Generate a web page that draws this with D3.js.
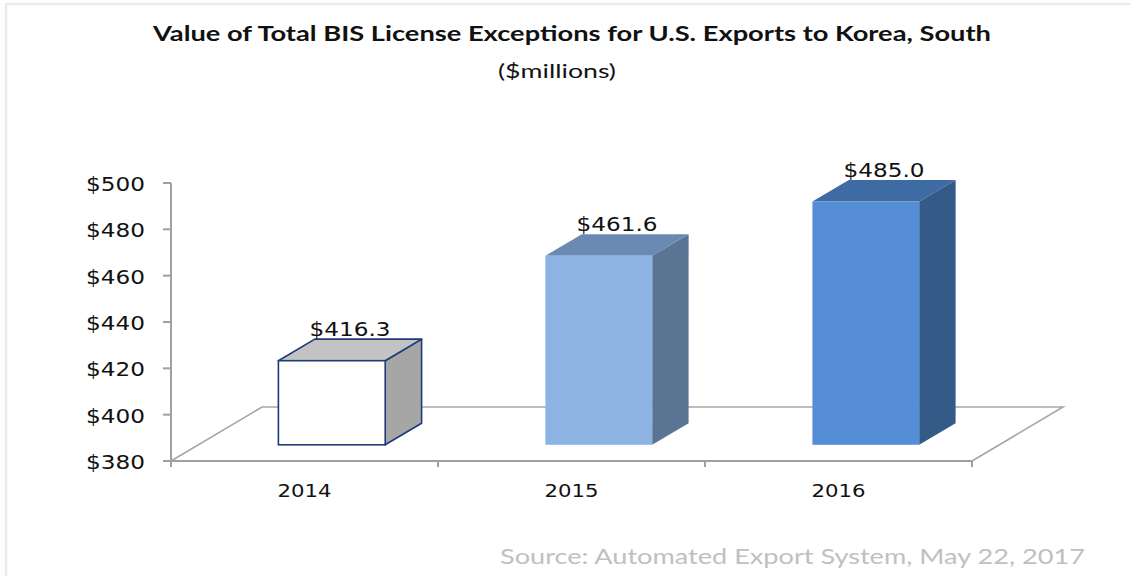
<!DOCTYPE html>
<html><head><meta charset="utf-8">
<script src="https://cdn.jsdelivr.net/npm/d3@7"></script>
<style>body{margin:0;background:#fff}svg{display:block}</style>
</head><body>
<svg id="c" width="1130" height="576"></svg>
<script>
const categories = ["2014", "2015", "2016"];
const values = [416.3, 461.6, 485.0];
const valueLabels = ["$416.3", "$461.6", "$485.0"];
const yTicks = [380, 400, 420, 440, 460, 480, 500];
const yTickLabels = ["$380", "$400", "$420", "$440", "$460", "$480", "$500"];
const frontColors = ["#ffffff", "#8db3e2", "#558ed5"];
const topColors = ["#c3c3c3", "#6a8ab4", "#3f6ba4"];
const sideColors = ["#a6a6a6", "#5b7493", "#345a88"];
const strokeColors = ["#1f3a78", "none", "none"];
const titleText = "Value of Total BIS License Exceptions for U.S. Exports to Korea, South";
const subtitleText = "($millions)";
const sourceText = "Source: Automated Export System, May 22, 2017";

const svg = d3.select("#c");
const y = d3.scaleLinear().domain([380, 500]).range([461, 183]);
const x = d3.scaleBand().domain(categories).range([171, 972]).paddingInner(0).paddingOuter(0);
const D = {x: 91, y: -54};           // full floor depth vector
const f0 = 0.3, fd = 0.4;            // bar depth start / thickness (fraction of floor depth)
const bw = x.bandwidth() * 0.4;

// border
svg.append("path").attr("d", "M6,576 L6,4 L1130,4")
  .attr("fill", "none").attr("stroke", "#ebebeb").attr("stroke-width", 2.5);

// title
svg.append("text").attr("x", 572).attr("y", 41).attr("text-anchor", "middle")
  .attr("font-family", "Lato, 'Open Sans', sans-serif").attr("font-weight", "bold").attr("font-size", 21)
  .attr("textLength", 838).attr("lengthAdjust", "spacingAndGlyphs").attr("fill", "#111").text(titleText);
svg.append("text").attr("x", 557).attr("y", 78).attr("text-anchor", "middle")
  .attr("font-family", "Lato, 'Open Sans', sans-serif").attr("font-size", 20)
  .attr("textLength", 118).attr("lengthAdjust", "spacingAndGlyphs").attr("fill", "#111").text(subtitleText);

// floor
const y0 = y(380);
const floor = svg.append("g").attr("fill", "none").attr("stroke", "#a6a6a6").attr("stroke-width", 1.6);
floor.append("path").attr("d",
  `M${x.range()[0]},${y0} L${x.range()[0] + D.x},${y0 + D.y} L${x.range()[1] + D.x},${y0 + D.y} L${x.range()[1]},${y0}`);

// y axis
const ax = svg.append("g");
ax.append("line").attr("x1", 171).attr("x2", 171).attr("y1", y(500)).attr("y2", y(380))
  .attr("stroke", "#a0a0a0").attr("stroke-width", 2);
ax.selectAll("line.t").data(yTicks).join("line").attr("class", "t")
  .attr("x1", 163).attr("x2", 171).attr("y1", d => y(d)).attr("y2", d => y(d))
  .attr("stroke", "#a0a0a0").attr("stroke-width", 2);
ax.selectAll("text").data(yTicks).join("text")
  .attr("x", 145).attr("y", d => y(d) + 8).attr("text-anchor", "end")
  .attr("font-family", "'DejaVu Sans', Verdana, sans-serif").attr("font-size", 19)
  .attr("textLength", 59).attr("lengthAdjust", "spacingAndGlyphs").attr("fill", "#111")
  .text((d, i) => yTickLabels[i]);

// front floor edge and x ticks
svg.append("line").attr("x1", x.range()[0]).attr("x2", x.range()[1]).attr("y1", y0).attr("y2", y0)
  .attr("stroke", "#a0a0a0").attr("stroke-width", 2);
const bounds = categories.map(c => x(c)).concat([x.range()[1]]);
svg.selectAll("line.xt").data(bounds).join("line").attr("class", "xt")
  .attr("x1", d => d).attr("x2", d => d).attr("y1", y0).attr("y2", y0 + 6)
  .attr("stroke", "#a0a0a0").attr("stroke-width", 2);
svg.selectAll("text.xl").data(categories).join("text").attr("class", "xl")
  .attr("x", d => x(d) + x.bandwidth() / 2).attr("y", 497).attr("text-anchor", "middle")
  .attr("font-family", "'DejaVu Sans', Verdana, sans-serif").attr("font-size", 18)
  .attr("textLength", 54).attr("lengthAdjust", "spacingAndGlyphs").attr("fill", "#111").text(d => d);

// bars
const bars = svg.selectAll("g.bar").data(categories).join("g").attr("class", "bar");
bars.each(function(c, i) {
  const g = d3.select(this);
  const cx = x(c) + x.bandwidth() / 2 + D.x * f0;
  const xl = cx - bw / 2, xr = cx + bw / 2;
  const yb = y(380) + D.y * f0, yt = y(values[i]) + D.y * f0;
  const ox = D.x * fd, oy = D.y * fd;
  const sc = strokeColors[i], sw = sc === "none" ? 0 : 1.6;
  g.append("path").attr("d", `M${xr},${yt} L${xr + ox},${yt + oy} L${xr + ox},${yb + oy} L${xr},${yb} Z`)
    .attr("fill", sideColors[i]).attr("stroke", sc).attr("stroke-width", sw).attr("stroke-linejoin", "round");
  g.append("path").attr("d", `M${xl},${yt} L${xl + ox},${yt + oy} L${xr + ox},${yt + oy} L${xr},${yt} Z`)
    .attr("fill", topColors[i]).attr("stroke", sc).attr("stroke-width", sw).attr("stroke-linejoin", "round");
  g.append("rect").attr("x", xl).attr("y", yt).attr("width", bw).attr("height", yb - yt)
    .attr("fill", frontColors[i]).attr("stroke", sc).attr("stroke-width", sw);
  g.append("text").attr("x", cx + ox / 2).attr("y", yt + oy - 3).attr("text-anchor", "middle")
    .attr("font-family", "'DejaVu Sans', Verdana, sans-serif").attr("font-size", 20)
    .attr("textLength", 81).attr("lengthAdjust", "spacingAndGlyphs").attr("fill", "#111").text(valueLabels[i]);
});

// source
svg.append("text").attr("x", 1085).attr("y", 564).attr("text-anchor", "end")
  .attr("font-family", "Lato, 'Open Sans', sans-serif").attr("font-size", 21)
  .attr("textLength", 585).attr("lengthAdjust", "spacingAndGlyphs").attr("fill", "#c0c0c0").text(sourceText);
</script>
</body></html>
